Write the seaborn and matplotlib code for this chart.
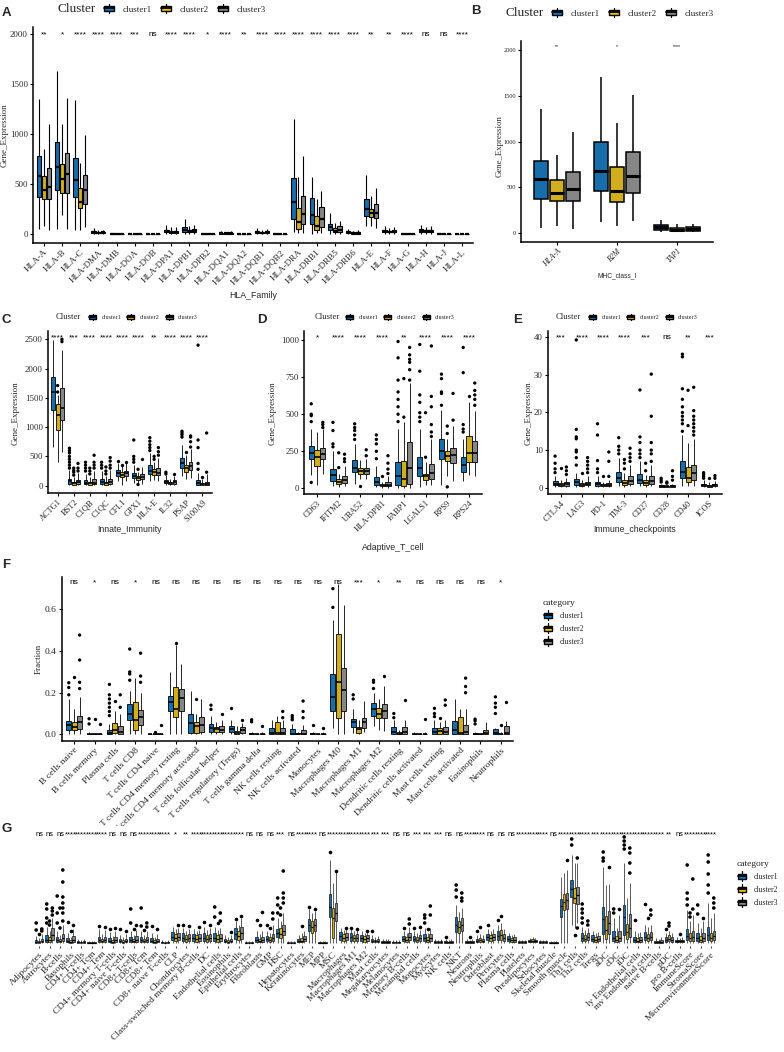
import numpy as np
import pandas as pd
import matplotlib
matplotlib.use("Agg")
import matplotlib.pyplot as plt
import seaborn as sns
from matplotlib.patches import Patch, Rectangle
from matplotlib.lines import Line2D
from matplotlib.legend_handler import HandlerBase

# box stats per box: (low whisker, q1, median, q3, high whisker)
clusters = ["cluster1", "cluster2", "cluster3"]

# ---------- A: HLA family ----------
A_genes = ["HLA-A", "HLA-B", "HLA-C", "HLA-DMA", "HLA-DMB", "HLA-DOA", "HLA-DOB", "HLA-DPA1",
           "HLA-DPB1", "HLA-DPB2", "HLA-DQA1", "HLA-DQA2", "HLA-DQB1", "HLA-DQB2", "HLA-DRA",
           "HLA-DRB1", "HLA-DRB5", "HLA-DRB6", "HLA-E", "HLA-F", "HLA-G", "HLA-H", "HLA-J", "HLA-L"]
A_c1 = [(55, 375, 580, 785, 1350), (50, 445, 670, 920, 1630), (45, 370, 545, 760, 1345), (5, 15, 22, 32, 60),
        (0, 3, 5, 8, 16), (0, 2, 4, 6, 12), (0, 1, 2, 3, 6), (2, 20, 30, 45, 95), (3, 27, 45, 70, 150),
        (0, 1, 2, 3, 6), (1, 5, 10, 16, 32), (0, 2, 4, 7, 15), (2, 10, 20, 32, 60), (0, 2, 3, 5, 10),
        (27, 155, 325, 560, 1150), (5, 105, 190, 360, 570), (3, 43, 77, 103, 210), (2, 10, 18, 30, 50),
        (80, 185, 250, 350, 595), (5, 20, 30, 45, 80), (0, 2, 4, 6, 12), (5, 20, 30, 50, 90),
        (0, 2, 5, 8, 15), (0, 2, 4, 7, 13)]
A_c2 = [(80, 355, 440, 580, 850), (190, 410, 555, 700, 1100), (45, 260, 325, 460, 710), (3, 10, 15, 20, 40),
        (0, 2, 4, 6, 12), (0, 1, 3, 5, 10), (0, 1, 2, 3, 5), (2, 15, 22, 35, 70), (2, 18, 28, 40, 85),
        (0, 1, 2, 3, 5), (1, 4, 8, 12, 25), (0, 2, 3, 6, 12), (1, 8, 15, 25, 45), (0, 1, 2, 4, 8),
        (17, 55, 125, 260, 575), (10, 45, 85, 180, 350), (3, 20, 37, 60, 110), (1, 5, 10, 18, 35),
        (80, 170, 210, 255, 385), (5, 18, 25, 35, 60), (0, 2, 3, 5, 10), (5, 18, 28, 40, 75),
        (0, 2, 4, 7, 12), (0, 2, 3, 6, 11)]
A_c3 = [(45, 350, 475, 660, 1100), (55, 410, 605, 810, 1360), (75, 305, 445, 595, 990), (5, 12, 18, 27, 45),
        (0, 3, 5, 7, 14), (0, 2, 3, 5, 11), (0, 1, 2, 3, 5), (2, 15, 22, 35, 70), (2, 20, 30, 50, 95),
        (0, 1, 2, 3, 5), (1, 5, 9, 14, 28), (0, 2, 4, 6, 13), (2, 9, 18, 28, 52), (0, 2, 3, 5, 9),
        (17, 100, 205, 385, 780), (8, 70, 150, 275, 430), (3, 23, 43, 83, 135), (1, 6, 12, 20, 40),
        (60, 160, 215, 300, 460), (5, 18, 25, 38, 70), (0, 2, 3, 5, 11), (5, 20, 28, 45, 80),
        (0, 2, 4, 7, 13), (0, 2, 4, 6, 12)]
A_sig = ["**", "*", "****", "****", "****", "***", "ns", "****", "****", "*", "****", "**",
         "****", "****", "****", "****", "****", "****", "**", "**", "****", "ns", "ns", "****"]

# ---------- B: MHC class I ----------
B_genes = ["HLA-A", "B2M", "TAP1"]
B_c1 = [(55, 375, 590, 790, 1355), (125, 460, 685, 995, 1700), (18, 36, 65, 87, 145)]
B_c2 = [(85, 355, 445, 580, 855), (75, 345, 465, 725, 1200), (10, 25, 40, 58, 100)]
B_c3 = [(50, 350, 480, 665, 1100), (135, 445, 630, 890, 1510), (10, 25, 47, 68, 100)]
B_sig = ["**", "*", "****"]

# ---------- C: innate immunity ----------
C_genes = ["ACTG1", "BST2", "C1QB", "C1QC", "CFL1", "GPX1", "HLA-E", "IL32", "PSAP", "S100A9"]
C_c1 = [(666, 1293, 1606, 1851, 2489), (5, 30, 75, 120, 260), (5, 25, 50, 95, 200), (5, 30, 60, 120, 250),
        (80, 170, 215, 260, 380), (50, 130, 170, 220, 360), (80, 200, 250, 350, 560), (10, 40, 70, 100, 180),
        (160, 310, 380, 470, 700), (5, 20, 50, 100, 220)]
C_c2 = [(400, 951, 1207, 1395, 1550), (5, 20, 40, 70, 140), (5, 20, 40, 70, 150), (5, 20, 40, 70, 160),
        (20, 150, 190, 230, 330), (20, 90, 130, 160, 240), (100, 190, 230, 280, 400), (5, 25, 45, 70, 120),
        (120, 240, 300, 360, 520), (5, 10, 25, 50, 110)]
C_c3 = [(581, 1122, 1321, 1663, 2318), (5, 25, 55, 100, 220), (5, 25, 50, 110, 250), (5, 30, 60, 120, 260),
        (80, 170, 210, 255, 390), (30, 110, 150, 200, 320), (80, 180, 220, 300, 480), (10, 35, 60, 90, 160),
        (130, 270, 330, 400, 620), (5, 15, 30, 70, 200)]
C_out = {"ACTG1": ([], [1600, 1710], [2460, 2500]),
         "BST2": ([300, 350, 400, 450, 500, 560, 600, 640], [180, 230, 260, 300], [250, 300, 380]),
         "C1QB": ([250, 300, 350, 400], [200, 250, 300], [300, 350, 400, 520]),
         "C1QC": ([300, 350, 400], [200, 250, 320], [300, 350, 420, 480]),
         "CFL1": ([420], [360], [410]),
         "GPX1": ([400, 450, 500, 780], [20, 280], [450]),
         "HLA-E": ([600, 650, 700, 760, 820], [450, 500], [520, 580, 650]),
         "IL32": ([200, 230], [], [200]),
         "PSAP": ([830, 870, 900, 930], [570], [660, 750, 830, 850]),
         "S100A9": ([280, 380, 650, 780, 2400], [150], [230, 900])}
C_sig = ["****", "***", "****", "****", "****", "****", "**", "****", "****", "****"]

# ---------- D: adaptive T cell ----------
D_genes = ["CD63", "IFITM2", "UBA52", "HLA-DPB1", "FABP1", "LGALS1", "RPS9", "RPS24"]
D_c1 = [(90, 195, 240, 285, 400), (15, 50, 90, 130, 250), (30, 110, 140, 190, 300), (10, 25, 45, 75, 150),
        (0, 25, 80, 180, 400), (10, 85, 140, 210, 400), (20, 195, 255, 330, 530), (50, 110, 160, 210, 330)]
D_c2 = [(20, 150, 210, 260, 380), (10, 30, 45, 60, 100), (60, 100, 120, 135, 190), (5, 15, 20, 25, 45),
        (0, 15, 60, 185, 450), (20, 55, 80, 100, 180), (80, 185, 215, 250, 330), (90, 175, 240, 350, 580)]
D_c3 = [(100, 195, 230, 270, 400), (15, 35, 55, 80, 150), (60, 100, 120, 140, 200), (5, 15, 25, 40, 80),
        (0, 30, 140, 310, 710), (20, 65, 105, 165, 330), (50, 170, 225, 270, 420), (80, 175, 240, 320, 520)]
D_out = {"CD63": ([40, 450, 490, 500, 570], [], [410, 430, 445]),
         "IFITM2": ([280, 300, 390, 445], [140, 240], [180, 200, 230]),
         "UBA52": ([330, 360, 390, 410, 435], [15], [220, 260]),
         "HLA-DPB1": ([200, 250, 300, 330, 360], [80], [100, 130, 170, 220]),
         "FABP1": ([450, 500, 550, 600, 650, 730, 880, 990], [480, 740], [730, 800, 850, 870, 900, 950]),
         "LGALS1": ([450, 480, 510, 580, 630, 790, 970], [210, 510], [350, 380, 430, 550, 620, 960]),
         "RPS9": ([560, 640, 650, 740, 770], [10, 370, 420], [460, 640]),
         "RPS24": ([380, 400, 430, 780, 950], [620], [560, 600, 630, 660, 710])}
D_sig = ["*", "****", "****", "****", "**", "****", "****", "****"]

# ---------- E: immune checkpoints ----------
E_genes = ["CTLA4", "LAG3", "PD-1", "TIM-3", "CD27", "CD28", "CD40", "ICOS"]
E_c1 = [(0.3, 0.6, 1.0, 1.8, 3.0), (0.3, 0.8, 1.4, 2.2, 4.0), (0.3, 0.5, 0.9, 1.6, 3.0), (0.5, 1.5, 2.5, 4.2, 8.0),
        (0.5, 1.2, 2.0, 3.6, 7.0), (0.2, 0.3, 0.4, 0.6, 1.0), (0.5, 2.5, 4.2, 7.0, 14.0), (0.2, 0.4, 0.6, 1.0, 2.0)]
E_c2 = [(0.3, 0.5, 0.8, 1.2, 2.0), (0.3, 0.5, 0.8, 1.2, 2.0), (0.2, 0.4, 0.6, 0.9, 1.5), (0.3, 0.8, 1.3, 2.0, 4.0),
        (0.3, 0.8, 1.2, 2.0, 3.5), (0.2, 0.3, 0.4, 0.5, 0.8), (0.5, 1.5, 2.5, 5.5, 12.0), (0.2, 0.3, 0.5, 0.8, 1.5)]
E_c3 = [(0.3, 0.5, 0.9, 1.5, 2.5), (0.3, 0.6, 1.0, 1.6, 3.0), (0.2, 0.4, 0.7, 1.2, 2.0), (0.5, 1.0, 1.8, 3.0, 6.0),
        (0.4, 1.0, 1.8, 3.0, 6.0), (0.2, 0.3, 0.4, 0.6, 1.0), (0.5, 2.0, 3.8, 6.0, 13.0), (0.2, 0.4, 0.6, 0.9, 1.8)]
E_out = {"CTLA4": ([4, 5, 6.5, 8.4], [5.2], [3.5, 4.5, 5.5]),
         "LAG3": ([6, 8, 9.5, 10, 13, 13.5, 15.5, 39.3], [4], [4, 5, 6, 7, 8]),
         "PD-1": ([4, 5, 7.2, 14, 17], [3], [3, 7, 9.5]),
         "TIM-3": ([9, 10, 11, 13.3], [5, 6.5, 7.5], [7, 8, 9, 10.5]),
         "CD27": ([8, 9, 10, 12, 13.5, 26], [4.5, 6.5], [7, 9, 10, 12, 19, 30.2]),
         "CD28": ([1.5, 2, 2.5], [1.2, 1.5], [2, 3, 4.5]),
         "CD40": ([15, 17, 18, 19, 20, 21.5, 23.5, 26.3, 34.8, 35.5], [16.5, 25.9],
                  [14, 15, 16, 17, 18, 19, 20.5, 26.7]),
         "ICOS": ([2.5, 3, 3.5, 4], [2.7], [2.5, 3.2])}
E_sig = ["***", "****", "****", "****", "***", "ns", "**", "***"]

# ---------- F: CIBERSORT fractions ----------
F_cells = ["B cells naive", "B cells memory", "Plasma cells", "T cells CD8", "T cells CD4 naive",
           "T cells CD4 memory resting", "T cells CD4 memory activated", "T cells follicular helper",
           "T cells regulatory (Tregs)", "T cells gamma delta", "NK cells resting", "NK cells activated",
           "Monocytes", "Macrophages M0", "Macrophages M1", "Macrophages M2", "Dendritic cells resting",
           "Dendritic cells activated", "Mast cells resting", "Mast cells activated", "Eosinophils", "Neutrophils"]
F_c1 = [(0, 0.021, 0.045, 0.066, 0.17), (0, 0, 0, 0.004, 0.01), (0, 0, 0.005, 0.02, 0.05), (0, 0.069, 0.10, 0.144, 0.21),
        (0, 0, 0, 0, 0.002), (0, 0.11, 0.157, 0.184, 0.30), (0, 0.005, 0.053, 0.096, 0.21), (0, 0.01, 0.03, 0.05, 0.09),
        (0, 0.01, 0.025, 0.04, 0.07), (0, 0, 0, 0.005, 0.012), (0, 0, 0.005, 0.03, 0.07), (0, 0, 0.004, 0.024, 0.05),
        (0, 0, 0, 0.005, 0.012), (0.03, 0.11, 0.18, 0.29, 0.55), (0.005, 0.034, 0.058, 0.072, 0.12),
        (0.04, 0.088, 0.12, 0.149, 0.2), (0, 0, 0.01, 0.035, 0.07), (0, 0, 0, 0.004, 0.01), (0, 0, 0.01, 0.03, 0.07),
        (0, 0, 0.02, 0.064, 0.17), (0, 0, 0, 0.005, 0.01), (0, 0, 0.005, 0.025, 0.03)]
F_c2 = [(0, 0.02, 0.037, 0.06, 0.12), (0, 0, 0, 0.003, 0.008), (0, 0.005, 0.02, 0.055, 0.11), (0, 0.02, 0.07, 0.157, 0.27),
        (0, 0, 0, 0, 0.002), (0, 0.085, 0.12, 0.226, 0.43), (0, 0.005, 0.04, 0.06, 0.1), (0, 0.01, 0.024, 0.035, 0.06),
        (0, 0.002, 0.007, 0.015, 0.04), (0, 0, 0, 0.003, 0.008), (0, 0, 0.005, 0.06, 0.09), (0, 0, 0, 0.005, 0.012),
        (0, 0, 0, 0.003, 0.008), (0, 0.08, 0.25, 0.48, 0.72), (0, 0.008, 0.025, 0.034, 0.07),
        (0.02, 0.077, 0.1, 0.125, 0.17), (0, 0, 0.003, 0.01, 0.02), (0, 0, 0, 0.003, 0.008), (0, 0, 0.015, 0.03, 0.06),
        (0, 0, 0.005, 0.083, 0.12), (0, 0, 0, 0.003, 0.008), (0, 0, 0, 0.004, 0.01)]
F_c3 = [(0, 0.024, 0.06, 0.088, 0.18), (0, 0, 0, 0.003, 0.008), (0, 0, 0.01, 0.04, 0.1), (0, 0.045, 0.085, 0.117, 0.2),
        (0, 0, 0, 0, 0.003), (0, 0.11, 0.173, 0.22, 0.34), (0, 0.013, 0.045, 0.085, 0.17), (0, 0.01, 0.02, 0.04, 0.07),
        (0, 0.005, 0.02, 0.035, 0.055), (0, 0, 0, 0.004, 0.01), (0, 0, 0.005, 0.03, 0.07), (0, 0, 0.004, 0.02, 0.045),
        (0, 0, 0, 0.004, 0.01), (0, 0.114, 0.213, 0.317, 0.62), (0.01, 0.03, 0.06, 0.077, 0.16),
        (0.015, 0.078, 0.11, 0.144, 0.23), (0, 0, 0.01, 0.035, 0.07), (0, 0, 0, 0.004, 0.01), (0, 0, 0.01, 0.035, 0.07),
        (0, 0, 0.01, 0.045, 0.12), (0, 0, 0.005, 0.02, 0.06), (0, 0, 0.005, 0.04, 0.065)]
F_out = {"B cells naive": ([0.19, 0.225, 0.248], [0.277], [0.22, 0.25, 0.357, 0.477]),
         "B cells memory": ([0.05, 0.075], [0.075], [0.05]),
         "Plasma cells": ([0.09, 0.11, 0.13, 0.15, 0.17, 0.19, 0.24], [0.16], [0.13, 0.19]),
         "T cells CD8": ([0.26, 0.29, 0.3, 0.41], [], [0.25, 0.28, 0.39]),
         "T cells CD4 naive": ([], [0.01], [0.045]),
         "T cells CD4 memory resting": ([], [0.44], []),
         "T cells CD4 memory activated": ([], [0.17], []),
         "T cells follicular helper": ([0.12, 0.14], [], [0.1]),
         "T cells regulatory (Tregs)": ([0.125], [], [0.07]),
         "T cells gamma delta": ([0.06, 0.07], [], [0.04]),
         "NK cells resting": ([], [], [0.08, 0.11]),
         "NK cells activated": ([0.07, 0.08, 0.09], [], [0.08, 0.11, 0.16]),
         "Monocytes": ([0.045], [], [0.03]),
         "Macrophages M0": ([0.61, 0.70], [], []),
         "Macrophages M1": ([0.17, 0.19], [], []),
         "Macrophages M2": ([0.22, 0.25, 0.26], [], [0.28]),
         "Dendritic cells resting": ([0.08, 0.1], [], [0.165]),
         "Dendritic cells activated": ([], [], [0.072]),
         "Mast cells resting": ([0.085, 0.1, 0.125], [0.078], [0.14, 0.165]),
         "Mast cells activated": ([], [], [0.2, 0.23, 0.27]),
         "Eosinophils": ([0.05, 0.065, 0.073], [], []),
         "Neutrophils": ([0.1, 0.13, 0.15, 0.18], [0.045], [0.157])}
F_sig = ["ns", "*", "ns", "*", "ns", "ns", "ns", "ns", "ns", "ns", "ns", "ns", "ns", "ns",
         "***", "*", "**", "ns", "ns", "ns", "ns", "*"]

# ---------- G: xCell scores (arbitrary units, axis hidden) ----------
G_cells = ["Adipocytes", "Astrocytes", "B-cells", "Basophils", "CD4+ T-cells", "CD4+ Tcm", "CD4+ Tem",
           "CD4+ memory T-cells", "CD4+ naive T-cells", "CD8+ T-cells", "CD8+ Tcm", "CD8+ Tem",
           "CD8+ naive T-cells", "CLP", "Chondrocytes", "Class-switched memory B-cells", "DC",
           "Endothelial cells", "Eosinophils", "Epithelial cells", "Erythrocytes", "Fibroblasts", "GMP", "HSC",
           "Hepatocytes", "Keratinocytes", "MEP", "MPP", "MSC", "Macrophages", "Macrophages M1",
           "Macrophages M2", "Mast cells", "Megakaryocytes", "Melanocytes", "Memory B-cells",
           "Mesangial cells", "Monocytes", "Myocytes", "NK cells", "NKT", "Neurons", "Neutrophils",
           "Osteoblast", "Pericytes", "Plasma cells", "Platelets", "Preadipocytes", "Sebocytes",
           "Skeletal muscle", "Smooth muscle", "Th1 cells", "Th2 cells", "Tregs", "aDC", "cDC", "iDC",
           "ly Endothelial cells", "mv Endothelial cells", "naive B-cells", "pDC", "pro B-cells",
           "ImmuneScore", "StromaScore", "MicroenvironmentScore"]
G_c1 = [(0, 0, 1, 3, 7), (0, 1, 3, 8, 16), (0, 1, 3, 6, 12), (0, 1, 2, 5, 10), (0, 0, 1, 2, 4), (0, 0, 0, 1, 2),
        (0, 1, 3, 6, 14), (0, 1, 2, 5, 11), (0, 1, 2, 4, 8), (0, 1, 3, 6, 12), (0, 1, 3, 6, 12), (0, 1, 2, 5, 10),
        (0, 0, 1, 1, 3), (0, 3, 6, 11, 16), (0, 2, 5, 10, 15), (0, 2, 5, 9, 14), (0, 2, 5, 10, 16), (0, 2, 5, 10, 16),
        (0, 1, 2, 4, 8), (0, 4, 9, 15, 22), (0, 0, 0, 1, 2), (0, 1, 3, 6, 12), (0, 2, 4, 7, 12), (0, 6, 10, 14, 25),
        (0, 0, 0, 1, 2), (0, 1, 2, 4, 8), (0, 12, 18, 24, 34), (0, 0, 0, 1, 2), (0, 26, 36, 49, 83), (0, 3, 7, 11, 15),
        (0, 2, 6, 10, 14), (0, 2, 5, 8, 12), (0, 1, 2, 4, 8), (0, 0, 1, 2, 4), (0, 0, 1, 1, 3), (0, 2, 4, 7, 12),
        (0, 2, 4, 7, 12), (0, 2, 5, 9, 15), (0, 0, 1, 2, 4), (0, 0, 1, 2, 4), (0, 11, 18, 26, 38), (0, 0, 1, 2, 4),
        (0, 1, 2, 4, 8), (0, 3, 6, 9, 14), (0, 3, 7, 12, 18), (0, 2, 4, 7, 10), (0, 0, 1, 2, 3), (0, 1, 2, 3, 5),
        (0, 0, 1, 2, 3), (0, 0, 0, 1, 2), (0, 26, 37, 44, 66), (18, 46, 54, 63, 88), (0, 2, 5, 10, 16), (0, 2, 4, 8, 12),
        (0, 9, 24, 36, 76), (0, 2, 5, 12, 25), (0, 8, 26, 38, 80), (0, 1, 3, 6, 12), (0, 3, 6, 11, 18), (0, 0, 1, 2, 5),
        (0, 1, 3, 6, 10), (0, 1, 2, 3, 6), (0, 3, 7, 14, 33), (0, 2, 5, 10, 20), (0, 3, 8, 16, 40)]
G_c2 = [(0, 0, 1, 2, 5), (0, 1, 3, 6, 12), (0, 1, 2, 4, 8), (0, 0, 1, 3, 6), (0, 0, 1, 1, 3), (0, 0, 0, 1, 2),
        (0, 1, 2, 4, 9), (0, 0, 1, 3, 7), (0, 0, 1, 3, 6), (0, 1, 2, 4, 8), (0, 1, 2, 4, 8), (0, 0, 1, 3, 6),
        (0, 0, 0, 1, 2), (0, 2, 5, 9, 14), (0, 1, 4, 8, 12), (0, 1, 4, 8, 12), (0, 1, 4, 8, 13), (0, 1, 4, 8, 13),
        (0, 0, 1, 3, 6), (0, 3, 7, 12, 18), (0, 0, 0, 1, 2), (0, 1, 2, 4, 9), (0, 1, 3, 6, 10), (0, 5, 9, 15, 22),
        (0, 0, 0, 1, 2), (0, 1, 2, 5, 10), (0, 10, 16, 22, 30), (0, 0, 0, 1, 2), (0, 5, 25, 35, 60), (0, 2, 5, 9, 13),
        (0, 2, 5, 8, 12), (0, 1, 4, 7, 10), (0, 1, 2, 3, 6), (0, 0, 1, 2, 4), (0, 0, 1, 1, 3), (0, 1, 3, 6, 10),
        (0, 1, 3, 6, 10), (0, 1, 3, 6, 10), (0, 0, 1, 2, 3), (0, 0, 1, 1, 3), (0, 10, 16, 22, 31), (0, 0, 1, 2, 3),
        (0, 1, 3, 5, 9), (0, 2, 5, 8, 12), (0, 3, 8, 13, 20), (0, 1, 3, 5, 8), (0, 0, 1, 2, 3), (0, 1, 2, 4, 6),
        (0, 0, 1, 2, 3), (0, 0, 0, 1, 2), (0, 33, 41, 49, 70), (15, 40, 45, 55, 80), (0, 2, 4, 8, 13), (0, 1, 3, 6, 10),
        (0, 4, 13, 27, 58), (0, 1, 3, 7, 15), (0, 4, 11, 19, 45), (0, 1, 2, 5, 10), (0, 2, 5, 9, 16), (0, 0, 1, 2, 4),
        (0, 2, 4, 8, 12), (0, 1, 2, 3, 5), (0, 2, 5, 10, 22), (0, 1, 3, 7, 15), (0, 2, 5, 10, 25)]
G_c3 = [(0, 1, 2, 4, 9), (0, 3, 8, 15, 25), (0, 2, 5, 9, 18), (0, 1, 3, 7, 14), (0, 0, 1, 2, 4), (0, 0, 0, 1, 2),
        (0, 1, 3, 6, 13), (0, 1, 3, 6, 12), (0, 1, 2, 4, 9), (0, 1, 3, 7, 13), (0, 1, 3, 6, 12), (0, 1, 2, 4, 9),
        (0, 0, 1, 1, 3), (0, 3, 6, 10, 15), (0, 2, 5, 9, 14), (0, 2, 5, 9, 13), (0, 2, 5, 9, 15), (0, 2, 5, 9, 15),
        (0, 1, 2, 4, 8), (0, 4, 10, 16, 25), (0, 0, 0, 1, 2), (0, 1, 3, 6, 12), (0, 2, 5, 9, 18), (0, 8, 12, 18, 30),
        (0, 0, 0, 1, 2), (0, 2, 4, 7, 12), (0, 12, 18, 24, 32), (0, 0, 0, 1, 2), (0, 22, 30, 40, 71), (0, 3, 6, 10, 14),
        (0, 2, 5, 9, 13), (0, 2, 5, 8, 11), (0, 1, 2, 4, 7), (0, 0, 1, 2, 4), (0, 0, 1, 1, 3), (0, 3, 6, 10, 16),
        (0, 2, 5, 8, 13), (0, 2, 5, 9, 15), (0, 0, 1, 2, 4), (0, 0, 1, 2, 4), (0, 12, 18, 25, 35), (0, 0, 1, 2, 4),
        (0, 1, 2, 4, 8), (0, 3, 6, 9, 14), (0, 2, 5, 9, 14), (0, 1, 3, 6, 9), (0, 0, 1, 2, 3), (0, 1, 2, 3, 5),
        (0, 0, 1, 2, 3), (0, 0, 0, 1, 2), (0, 34, 43, 50, 73), (20, 39, 48, 56, 80), (0, 3, 6, 10, 15), (0, 2, 4, 7, 11),
        (0, 9, 20, 32, 59), (0, 2, 5, 12, 28), (0, 6, 15, 29, 60), (0, 1, 3, 6, 11), (0, 3, 6, 11, 18), (0, 0, 1, 3, 6),
        (0, 1, 3, 6, 10), (0, 1, 2, 3, 6), (0, 2, 6, 12, 28), (0, 2, 5, 10, 22), (0, 3, 7, 12, 30)]
G_out = {"Adipocytes": ([13, 20], [9], [12, 14]),
         "Astrocytes": ([20, 25, 34, 39], [18, 22], [28, 32, 35]),
         "B-cells": ([20, 30, 47], [15, 35], [22, 30, 35, 40, 46, 61, 73]),
         "Basophils": ([21], [12], [18]),
         "CD4+ Tem": ([17], [], [16]), "CD4+ memory T-cells": ([14], [], [15]),
         "CD4+ naive T-cells": ([14], [], [12]), "CD8+ T-cells": ([20, 34], [14], [18]),
         "CD8+ Tcm": ([17, 35], [13], [16, 20]), "CD8+ Tem": ([17], [], [14]),
         "CLP": ([], [], [18]), "Chondrocytes": ([18], [], [17]), "Class-switched memory B-cells": ([], [], [16]),
         "DC": ([21], [], [18]), "Endothelial cells": ([26, 36], [20], [22, 30]), "Eosinophils": ([], [], [11]),
         "Epithelial cells": ([24], [], [27]), "Fibroblasts": ([23], [18], [31]), "GMP": ([18], [15], [24, 30]),
         "HSC": ([30, 38, 45], [28, 35], [40, 45, 50, 72]), "Keratinocytes": ([], [17], []),
         "MEP": ([36], [], [34]), "MSC": ([91], [], [72]), "Macrophages": ([], [], [15]),
         "Macrophages M1": ([15], [], [14]), "Macrophages M2": ([], [], [12]), "Mast cells": ([12], [], []),
         "Memory B-cells": ([15], [], [19, 24]), "Mesangial cells": ([15], [], [16]),
         "Monocytes": ([20, 25, 28], [14], [28, 37]), "NK cells": ([6], [], []),
         "NKT": ([46, 53, 58], [], [42, 45, 50]), "Neurons": ([], [6], []), "Neutrophils": ([12], [16], []),
         "Osteoblast": ([18], [], []), "Pericytes": ([23], [27], []), "Smooth muscle": ([], [], [83]),
         "Th1 cells": ([98, 104], [8], [15, 85]), "Th2 cells": ([20, 25, 30, 34, 39], [], [18, 22]),
         "aDC": ([82, 85, 91], [], [76]), "cDC": ([30, 34], [], [34]),
         "iDC": ([94, 98, 102, 106], [], [70, 80, 90, 95]), "ly Endothelial cells": ([23], [], []),
         "mv Endothelial cells": ([39], [25], [28, 33]), "pDC": ([14], [17, 20], []), "pro B-cells": ([], [9], []),
         "ImmuneScore": ([38, 44, 50, 78], [26, 30], [34, 64]), "StromaScore": ([29, 38], [], [25]),
         "MicroenvironmentScore": ([50, 58, 69, 81, 88], [], [35, 40, 45])}
G_sig = ["ns", "ns", "ns", "****", "****", "****", "****", "ns", "ns", "ns", "****", "****", "****", "*", "**",
         "****", "****", "****", "****", "****", "ns", "ns", "ns", "***", "ns", "****", "****", "ns", "****",
         "****", "****", "****", "***", "***", "ns", "ns", "***", "***", "***", "ns", "ns", "****", "****", "ns",
         "ns", "ns", "****", "****", "****", "ns", "****", "****", "****", "***", "****", "****", "****", "****",
         "****", "****", "**", "ns", "****", "****", "****"]

jco = {"cluster1": "#0073C2", "cluster2": "#EFC000", "cluster3": "#868686"}
SERIF = "Liberation Serif"
SANS = "Liberation Sans"

sns.set_theme(style="ticks")
plt.rcParams["font.family"] = [SERIF, "DejaVu Serif"]

W, H = 784, 1052
fig = plt.figure(figsize=(W / 100, H / 100), dpi=100)


def long_box(cats, c1, c2, c3):
    rows = []
    for cl, stats in zip(clusters, (c1, c2, c3)):
        for cat, st in zip(cats, stats):
            for v in st:
                rows.append((cat, cl, v))
    return pd.DataFrame(rows, columns=["cat", "cluster", "value"])


def long_out(out):
    rows = []
    for cat, lists in out.items():
        for cl, vals in zip(clusters, lists):
            for v in vals:
                rows.append((cat, cl, v))
    return pd.DataFrame(rows, columns=["cat", "cluster", "value"])


class BoxKey(HandlerBase):
    def create_artists(self, legend, orig, xd, yd, w, h, fs, trans):
        x0, y0 = -xd, -yd
        box = Rectangle((x0 + 0.12 * w, y0 + 0.15 * h), 0.76 * w, 0.7 * h, facecolor=orig.get_facecolor(),
                        edgecolor="black", lw=1.0, transform=trans)
        med = Line2D([x0 + 0.12 * w, x0 + 0.88 * w], [y0 + 0.5 * h] * 2, color="black", lw=1.3, transform=trans)
        lo = Line2D([x0 + 0.5 * w] * 2, [y0 - 0.1 * h, y0 + 0.15 * h], color="black", lw=0.9, transform=trans)
        hi = Line2D([x0 + 0.5 * w] * 2, [y0 + 0.85 * h, y0 + 1.1 * h], color="black", lw=0.9, transform=trans)
        return [box, med, lo, hi]


keys = [Patch(facecolor=jco[c], edgecolor="black") for c in clusters]


def px_axes(l, t, r, b):
    ax = fig.add_axes([l / W, 1 - b / H, (r - l) / W, (b - t) / H])
    ax._px = (l, t, r, b)
    return ax


def panel(ax, cats, stats, outs, ylim, lw, ms):
    df = long_box(cats, *stats)
    sns.boxplot(data=df, x="cat", y="value", hue="cluster", order=cats, hue_order=clusters, palette=jco,
                whis=(0, 100), showcaps=False, showfliers=False, width=0.8, gap=0.1, linecolor="black",
                linewidth=lw, medianprops=dict(linewidth=lw * 2.0), legend=False, ax=ax)
    if outs:
        od = long_out(outs)
        sns.stripplot(data=od, x="cat", y="value", hue="cluster", order=cats, hue_order=clusters,
                      palette={c: "black" for c in clusters}, dodge=True, jitter=False, size=ms,
                      linewidth=0, legend=False, ax=ax)
    ax.set_xlim(-0.6, len(cats) - 0.4)
    ax.set_ylim(*ylim)
    sns.despine(ax=ax)
    for s in ("left", "bottom"):
        ax.spines[s].set_linewidth(1.1)
        ax.spines[s].set_color("black")
    ax.tick_params(length=2.2, width=0.8, color="black", pad=1.5)
    ax.set_xlabel("")
    ax.set_ylabel("")


def ticks_fmt(ax, xsize, ysize, italic=False):
    ax.set_xticks(range(len(ax.get_xticklabels())))
    for t in ax.get_xticklabels():
        t.set_rotation(45)
        t.set_ha("right")
        t.set_va("top")
        t.set_rotation_mode("anchor")
        t.set_fontsize(xsize)
        t.set_family(SERIF)
        if italic:
            t.set_style("italic")
    for t in ax.get_yticklabels():
        t.set_fontsize(ysize)
        t.set_family(SERIF)


def sig(ax, labels, y_px, size):
    l, t, r, b = ax._px
    frac = (b - y_px) / (b - t)
    tr = ax.get_xaxis_transform()
    for i, s in enumerate(labels):
        ax.text(i, frac, s, transform=tr, ha="center", va="baseline", fontsize=size, family=SANS,
                clip_on=False, color="black")


def labels(ax, xl, xl_y, yl, yl_x, yl_y, xsize, ysize):
    l, t, r, b = ax._px
    if xl:
        ax.set_xlabel(xl, fontsize=xsize, family=SANS)
        ax.xaxis.set_label_coords(0.5, (b - xl_y) / (b - t))
        ax.xaxis.label.set_va("center")
    if yl:
        ax.set_ylabel(yl, fontsize=ysize, family=SERIF)
        ax.yaxis.set_label_coords((yl_x - l) / (r - l), (b - yl_y) / (b - t))
        ax.yaxis.label.set_va("center")


def hlegend(title_x, y, key_x, tsize, lsize, colsp):
    fig.text(title_x / W, 1 - y / H, "Cluster", fontsize=tsize, family=SERIF, va="center", ha="left")
    fig.legend(keys, clusters, handler_map={Patch: BoxKey()}, loc="center left",
               bbox_to_anchor=(key_x / W, 1 - y / H), bbox_transform=fig.transFigure, ncol=3,
               frameon=False, borderpad=0, borderaxespad=0, handlelength=1.5, handleheight=1.0,
               handletextpad=0.7, columnspacing=colsp, prop={"family": SERIF, "size": lsize})


def vlegend(x, y_top):
    fig.legend(keys, clusters, handler_map={Patch: BoxKey()}, loc="upper left", title="category",
               bbox_to_anchor=(x / W, 1 - y_top / H), bbox_transform=fig.transFigure, frameon=False,
               borderpad=0, borderaxespad=0, handlelength=1.3, handleheight=1.25, handletextpad=0.8,
               labelspacing=0.55, alignment="left", prop={"family": SERIF, "size": 5.6},
               title_fontproperties={"family": SERIF, "size": 6.8})


def letter(x, y, s):
    fig.text(x / W, 1 - y / H, s, fontsize=9.5, family=SANS, weight="bold", va="center", ha="left")


# ---------- A ----------
axA = px_axes(33, 27, 473, 243)
panel(axA, A_genes, (A_c1, A_c2, A_c3), None, (-87, 2070), 0.8, 2.5)
axA.set_yticks([0, 500, 1000, 1500, 2000])
ticks_fmt(axA, 6.6, 6.3)
sig(axA, A_sig, 36.5, 5.9)
labels(axA, "HLA_Family", 296, "Gene_Expression", 5, 135, 6.3, 6.5)
hlegend(58, 9, 102, 9.5, 6.6, 0.85)
letter(2, 12.5, "A")

# ---------- B ----------
axB = px_axes(521, 41, 713, 242)
panel(axB, B_genes, (B_c1, B_c2, B_c3), None, (-95, 2098), 1.1, 2.5)
axB.set_yticks([0, 500, 1000, 1500, 2000])
ticks_fmt(axB, 5.6, 4.6, italic=True)
sig(axB, B_sig, 48, 3.6)
labels(axB, "MHC_class_I", 276, "Gene_Expression", 500, 146, 4.8, 6.3)
hlegend(505, 13, 550, 9.5, 6.6, 0.85)
letter(471, 10.5, "B")

# ---------- C ----------
axC = px_axes(48, 331, 212, 493)
panel(axC, C_genes, (C_c1, C_c2, C_c3), C_out, (-125, 2642), 0.6, 2.4)
axC.set_yticks([0, 500, 1000, 1500, 2000, 2500])
ticks_fmt(axC, 6.0, 6.3)
sig(axC, C_sig, 339, 6.0)
labels(axC, "Innate_Immunity", 530, "Gene_Expression", 16, 413, 6.3, 6.5)
hlegend(56, 317, 88, 6.2, 4.4, 0.85)
letter(2, 320, "C")

# ---------- D ----------
axD = px_axes(304, 331, 482, 494)
panel(axD, D_genes, (D_c1, D_c2, D_c3), D_out, (-38, 1061), 0.6, 2.4)
axD.set_yticks([0, 250, 500, 750, 1000])
ticks_fmt(axD, 6.0, 6.3)
sig(axD, D_sig, 339, 6.0)
labels(axD, "Adaptive_T_cell", 547, "Gene_Expression", 273, 413, 6.3, 6.5)
hlegend(315, 317, 345, 6.2, 4.4, 0.85)
letter(257, 320, "D")

# ---------- E ----------
axE = px_axes(548, 331, 722, 494)
panel(axE, E_genes, (E_c1, E_c2, E_c3), E_out, (-1.68, 41.67), 0.6, 2.4)
axE.set_yticks([0, 10, 20, 30, 40])
ticks_fmt(axE, 6.0, 6.3)
sig(axE, E_sig, 339, 6.0)
labels(axE, "Immune_checkpoints", 530, "Gene_Expression", 529, 413, 6.3, 6.5)
hlegend(556, 317, 588, 6.2, 4.4, 0.85)
letter(513, 320, "E")

# ---------- F ----------
axF = px_axes(62, 577, 513, 741)
panel(axF, F_cells, (F_c1, F_c2, F_c3), F_out, (-0.032, 0.756), 0.6, 2.4)
axF.set_yticks([0.0, 0.2, 0.4, 0.6])
axF.set_yticklabels(["0.0", "0.2", "0.4", "0.6"])
ticks_fmt(axF, 6.8, 6.8)
sig(axF, F_sig, 584.5, 6.0)
labels(axF, None, 0, "Fraction", 39, 659, 6.3, 6.5)
vlegend(543, 599)
letter(2, 564.5, "F")

# ---------- G ----------
axG = px_axes(32.7, 826, 717.3, 946)
panel(axG, G_cells, (G_c1, G_c2, G_c3), G_out, (-3, 117), 0.45, 2.6)
ticks_fmt(axG, 6.8, 6.0)
axG.set_yticks([])
for s in axG.spines.values():
    s.set_visible(False)
axG.tick_params(axis="x", length=1.5, width=0.8, color="#444444", pad=1.5)
sig(axG, G_sig, 836.5, 5.4)
vlegend(737, 860)
letter(2, 829, "G")

fig.savefig("out.png", dpi=100)
